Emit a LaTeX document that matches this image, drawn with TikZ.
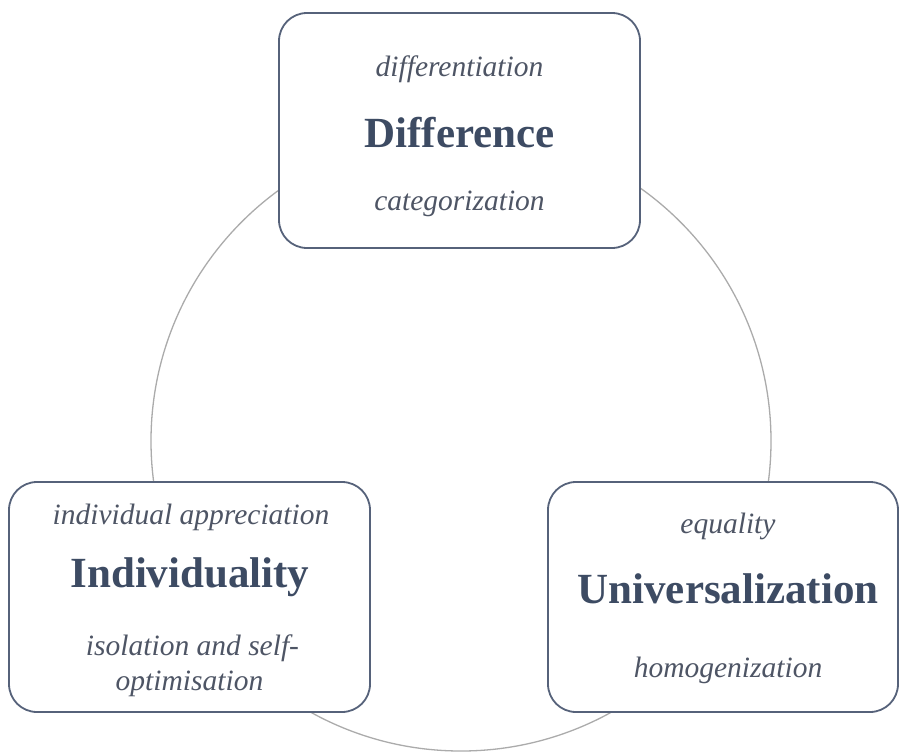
\documentclass[tikz,border=0pt]{standalone}
\usepackage{fontspec}
\setmainfont{Liberation Serif}
\definecolor{boxline}{HTML}{56627A}
\definecolor{ringline}{HTML}{ABABAB}
\definecolor{titletext}{HTML}{3D4B63}
\definecolor{subtext}{HTML}{4E5565}
\begin{document}
\begin{tikzpicture}[x=1pt,y=-1pt,
  panel/.style={draw=boxline, line width=1.8pt, fill=white, rounded corners=28pt, inner sep=0pt},
  title/.style={anchor=base, text=titletext, font=\fontsize{43}{48}\selectfont\bfseries, inner sep=0pt},
  sub/.style={anchor=base, text=subtext, font=\fontsize{29.5}{36}\selectfont\itshape, inner sep=0pt},
]
\useasboundingbox (0,0) rectangle (899,752);

% connecting ring behind the three panels
\node[draw=ringline, line width=1.3pt, circle, minimum size=620pt, inner sep=0pt] (ring) at (461,441) {};

% panels
\node[panel, minimum width=361pt, minimum height=235pt] (diff) at (459.5,130.5) {};
\node[panel, minimum width=361pt, minimum height=230pt] (indiv) at (189.5,597) {};
\node[panel, minimum width=350pt, minimum height=230pt] (univ) at (723,597) {};

% Difference
\node[sub]   (diffA) at (459.5,77)  {differentiation};
\node[title] (diffT) at (459.5,147) {Difference};
\node[sub]   (diffB) at (459.5,210) {categorization};

% Individuality
\node[sub]   (indA)  at (191,524)   {individual appreciation};
\node[title] (indT)  at (190,587)   {Individuality};
\node[sub]   (indB)  at (192.5,655) {isolation and self-};
\node[sub]   (indC)  at (189.5,690) {optimisation};

% Universalization
\node[sub]   (uniA)  at (728,533)   {equality};
\node[title] (uniT)  at (728,603)   {Universalization};
\node[sub]   (uniB)  at (728,677)   {homogenization};
\end{tikzpicture}
\end{document}
